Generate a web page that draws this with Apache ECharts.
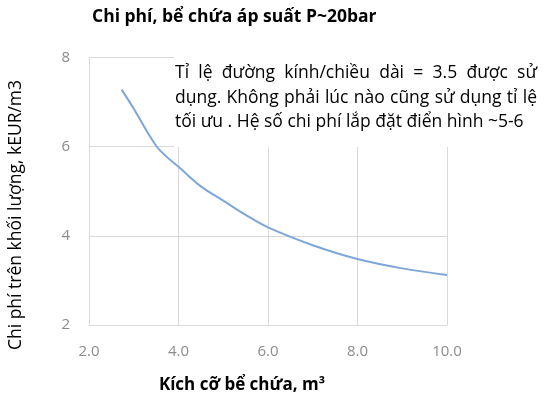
<!DOCTYPE html>
<html><head><meta charset="utf-8">
<script src="https://cdn.jsdelivr.net/npm/echarts@6/dist/echarts.min.js"></script>
<style>html,body{margin:0;padding:0;background:#fff}#c{width:550px;height:405px}</style>
</head><body><div id="c"></div>
<script>
const sizes = [2.73, 3.0, 3.5, 3.75, 4.0, 4.5, 5.0, 5.5, 6.0, 7.0, 8.0, 9.0, 10.0];
const costs = [7.28, 6.85, 6.02, 5.76, 5.55, 5.11, 4.79, 4.47, 4.19, 3.79, 3.48, 3.27, 3.12];
const titleText = 'Chi phí, bể chứa áp suất P~20bar';
const xName = 'Kích cỡ bể chứa, m³';
const yName = 'Chi phí trên khối lượng, kEUR/m3';
const noteLines = [
  'Tỉ lệ đường kính/chiều dài = 3.5 được sử',
  'dụng. Không phải lúc nào cũng sử dụng tỉ lệ',
  'tối ưu . Hệ số chi phí lắp đặt điển hình ~5-6'
];
const F = '"Open Sans", "Noto Sans", sans-serif';
const noteFont = '17.5px ' + F;
const noteX = 175, noteW = 362, noteYs = [73, 98, 122];

// justified layout of the note (text box with justified paragraph)
const ctx = document.createElement('canvas').getContext('2d');
ctx.font = noteFont;
const noteGraphics = [];
noteLines.forEach((line, li) => {
  const words = line.split(' ');
  const justify = li < noteLines.length - 1;
  if (!justify) {
    noteGraphics.push({type: 'text', z: 60, x: noteX, y: noteYs[li],
      style: {text: line, font: noteFont, fill: '#000', verticalAlign: 'middle'}});
    return;
  }
  const ws = words.map(w => ctx.measureText(w).width);
  const total = ws.reduce((a, b) => a + b, 0);
  const gap = (noteW - total) / (words.length - 1);
  let cx = noteX;
  words.forEach((w, i) => {
    noteGraphics.push({type: 'text', z: 60, x: cx, y: noteYs[li],
      style: {text: w, font: noteFont, fill: '#000', verticalAlign: 'middle'}});
    cx += ws[i] + gap;
  });
});

const chart = echarts.init(document.getElementById('c'));
chart.setOption({
  animation: false,
  grid: {left: 89, right: 103, top: 57.5, bottom: 80},
  xAxis: {
    type: 'value', min: 2, max: 10, interval: 2,
    axisLine: {show: true, lineStyle: {color: '#d9d9d9'}},
    axisTick: {show: false},
    splitLine: {show: true, lineStyle: {color: '#d9d9d9'}},
    axisLabel: {color: '#8c8c8c', fontSize: 15, fontFamily: F, margin: 19, formatter: v => v.toFixed(1)}
  },
  yAxis: {
    type: 'value', min: 2, max: 8, interval: 2,
    axisLine: {show: true, lineStyle: {color: '#d9d9d9'}},
    axisTick: {show: false},
    splitLine: {show: true, lineStyle: {color: '#d9d9d9'}},
    axisLabel: {color: '#8c8c8c', fontSize: 15, fontFamily: F, margin: 19}
  },
  series: [{
    type: 'line', smooth: 0.35, symbol: 'none',
    data: sizes.map((x, i) => [x, costs[i]]),
    lineStyle: {color: '#7ea6d8', width: 2}
  }],
  graphic: [
    {type: 'rect', shape: {x: 174, y: 56, width: 376, height: 91}, style: {fill: '#fff'}, z: 50},
    {type: 'text', left: 92, top: 8, z: 60,
     style: {text: titleText, font: 'bold 17.5px ' + F, fill: '#000'}},
    {type: 'text', z: 60, x: 242, y: 385,
     style: {text: xName, font: 'bold 17px ' + F, fill: '#000', align: 'center', verticalAlign: 'middle'}},
    {type: 'text', z: 60, x: 16, y: 215, rotation: Math.PI / 2,
     style: {text: yName, font: '17.5px ' + F, fill: '#000', align: 'center', verticalAlign: 'middle'}}
  ].concat(noteGraphics)
});
</script></body></html>
